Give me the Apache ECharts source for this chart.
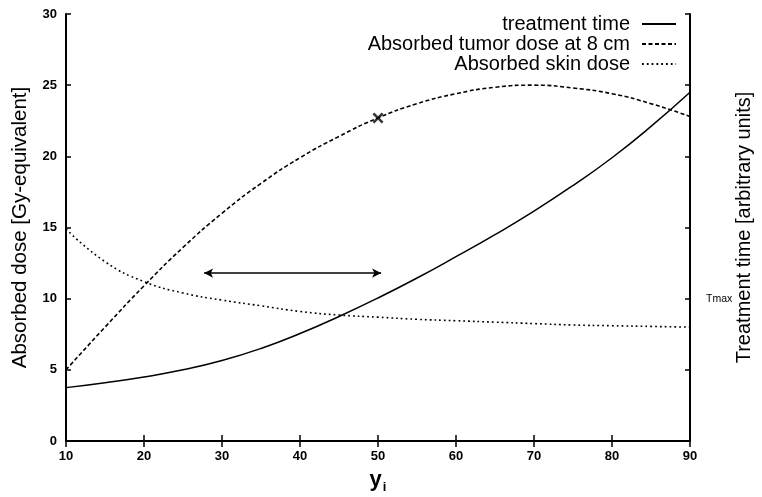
<!DOCTYPE html>
<html>
<head>
<meta charset="utf-8">
<script src="https://cdn.jsdelivr.net/npm/echarts@6/dist/echarts.min.js"></script>
<style>
  html, body { margin: 0; padding: 0; background: #fff; }
  #chart { width: 762px; height: 497px; }
</style>
</head>
<body>
<div id="chart"></div>
<script>
// values
const yi = [10, 15, 20, 25, 30, 35, 40, 45, 50, 55, 60, 65, 70, 75, 80, 85, 90]
const treatmentTime = [3.75, 4.1, 4.5, 5.0, 5.65, 6.5, 7.55, 8.75, 10.05, 11.45, 12.95, 14.5, 16.15, 17.95, 19.9, 22.1, 24.5]
const tumorDose = [5.0, 8.0, 10.9, 13.6, 16.0, 18.1, 19.9, 21.4, 22.7, 23.7, 24.4, 24.85, 25.0, 24.8, 24.4, 23.7, 22.8]
const skinDose = [14.9, 12.6, 11.2, 10.4, 9.9, 9.5, 9.1, 8.85, 8.7, 8.55, 8.45, 8.35, 8.25, 8.15, 8.1, 8.05, 8.0]
const markerPoint = [50, 22.7]
const arrowFrom = [27.7, 11.8]
const arrowTo = [50.4, 11.8]
const tmaxTick = 10

const pairs = (ys) => yi.map((x, i) => [x, ys[i]])

const font = 'Liberation Sans, Arial, Helvetica, sans-serif'
const black = '#000'

const tickLabel = {
  color: black,
  fontFamily: font,
  fontSize: 13,
  fontWeight: 'bold'
}

const options = {
  backgroundColor: '#fff',
  animation: false,
  grid: {
    left: 66,
    right: 72,
    top: 14,
    bottom: 56,
    containLabel: false,
    // keep the plot box fixed, names may sit near the edge
    outerBoundsMode: 'none'
  },
  legend: {
    orient: 'vertical',
    align: 'right',
    right: 80,
    top: 9,
    itemWidth: 34,
    itemHeight: 10,
    itemGap: 0,
    // hide the circle that line series put in their legend icon
    itemStyle: { opacity: 0 },
    data: ['treatment time', 'Absorbed tumor dose at 8 cm', 'Absorbed skin dose'],
    textStyle: {
      color: black,
      fontFamily: font,
      fontSize: 20,
      padding: [0, 7, 0, 0]
    }
  },
  xAxis: [
    {
      type: 'value',
      position: 'bottom',
      min: 10,
      max: 90,
      interval: 10,
      name: '{y|y}{i|i}',
      nameLocation: 'middle',
      nameGap: 24,
      nameTextStyle: {
        rich: {
          y: { fontFamily: font, fontSize: 22, fontWeight: 'bold', color: black },
          i: { fontFamily: font, fontSize: 13, fontWeight: 'bold', color: black, padding: [16, 0, 0, 1] }
        }
      },
      axisLine: { lineStyle: { color: black, width: 2 } },
      axisTick: { inside: true, length: 6, lineStyle: { color: black, width: 1.5 } },
      axisLabel: Object.assign({ margin: 9 }, tickLabel),
      splitLine: { show: false }
    },
    {
      // mirrored frame at top
      type: 'value',
      position: 'top',
      min: 10,
      max: 90,
      interval: 10,
      axisLine: { lineStyle: { color: black, width: 2 } },
      axisTick: { inside: true, length: 6, lineStyle: { color: black, width: 1.5 } },
      axisLabel: { show: false },
      splitLine: { show: false }
    }
  ],
  yAxis: [
    {
      type: 'value',
      position: 'left',
      min: 0,
      max: 30,
      interval: 5,
      name: 'Absorbed dose [Gy-equivalent]',
      nameLocation: 'middle',
      nameGap: 35,
      nameTextStyle: { color: black, fontFamily: font, fontSize: 20.5 },
      axisLine: { show: true, lineStyle: { color: black, width: 2 } },
      axisTick: { show: true, inside: true, length: 5, lineStyle: { color: black, width: 1.5 } },
      axisLabel: Object.assign({ margin: 9 }, tickLabel),
      splitLine: { show: false }
    },
    {
      type: 'value',
      position: 'right',
      min: 0,
      max: 30,
      interval: 5,
      name: 'Treatment time [arbitrary units]',
      nameLocation: 'middle',
      nameGap: 44,
      // Tmax sits level with the name; don't let it push the name away
      nameMoveOverlap: false,
      nameTextStyle: { color: black, fontFamily: font, fontSize: 20 },
      axisLine: { show: true, lineStyle: { color: black, width: 2 } },
      axisTick: { show: true, inside: true, length: 5, lineStyle: { color: black, width: 1.5 } },
      axisLabel: {
        margin: 16,
        color: black,
        fontFamily: font,
        fontSize: 10.5,
        formatter: (v) => (v === tmaxTick ? 'Tmax' : '')
      },
      splitLine: { show: false }
    }
  ],
  series: [
    {
      name: 'treatment time',
      type: 'line',
      smooth: 0.5,
      symbol: 'none',
      lineStyle: { color: black, width: 1.5, type: 'solid' },
      data: pairs(treatmentTime)
    },
    {
      name: 'Absorbed tumor dose at 8 cm',
      type: 'line',
      smooth: 0.5,
      symbol: 'none',
      lineStyle: { color: black, width: 1.6, type: [4, 2.5] },
      data: pairs(tumorDose)
    },
    {
      name: 'Absorbed skin dose',
      type: 'line',
      smooth: 0.5,
      symbol: 'none',
      lineStyle: { color: black, width: 1.6, type: [1.8, 3] },
      data: pairs(skinDose)
    },
    {
      // the x on the tumor dose curve and the double arrow
      name: 'marks',
      type: 'scatter',
      symbol: 'path://M0,1.6L1.6,0L5,3.4L8.4,0L10,1.6L6.6,5L10,8.4L8.4,10L5,6.6L1.6,10L0,8.4L3.4,5Z',
      symbolSize: 11,
      itemStyle: { color: black },
      data: [markerPoint],
      markLine: {
        silent: true,
        symbol: ['arrow', 'arrow'],
        symbolSize: [7, 9],
        label: { show: false },
        lineStyle: { color: black, width: 1.5, type: 'solid' },
        data: [[{ coord: arrowFrom }, { coord: arrowTo }]]
      }
    }
  ]
}

const chart = echarts.init(document.getElementById('chart'))
chart.setOption(options)
</script>
</body>
</html>
